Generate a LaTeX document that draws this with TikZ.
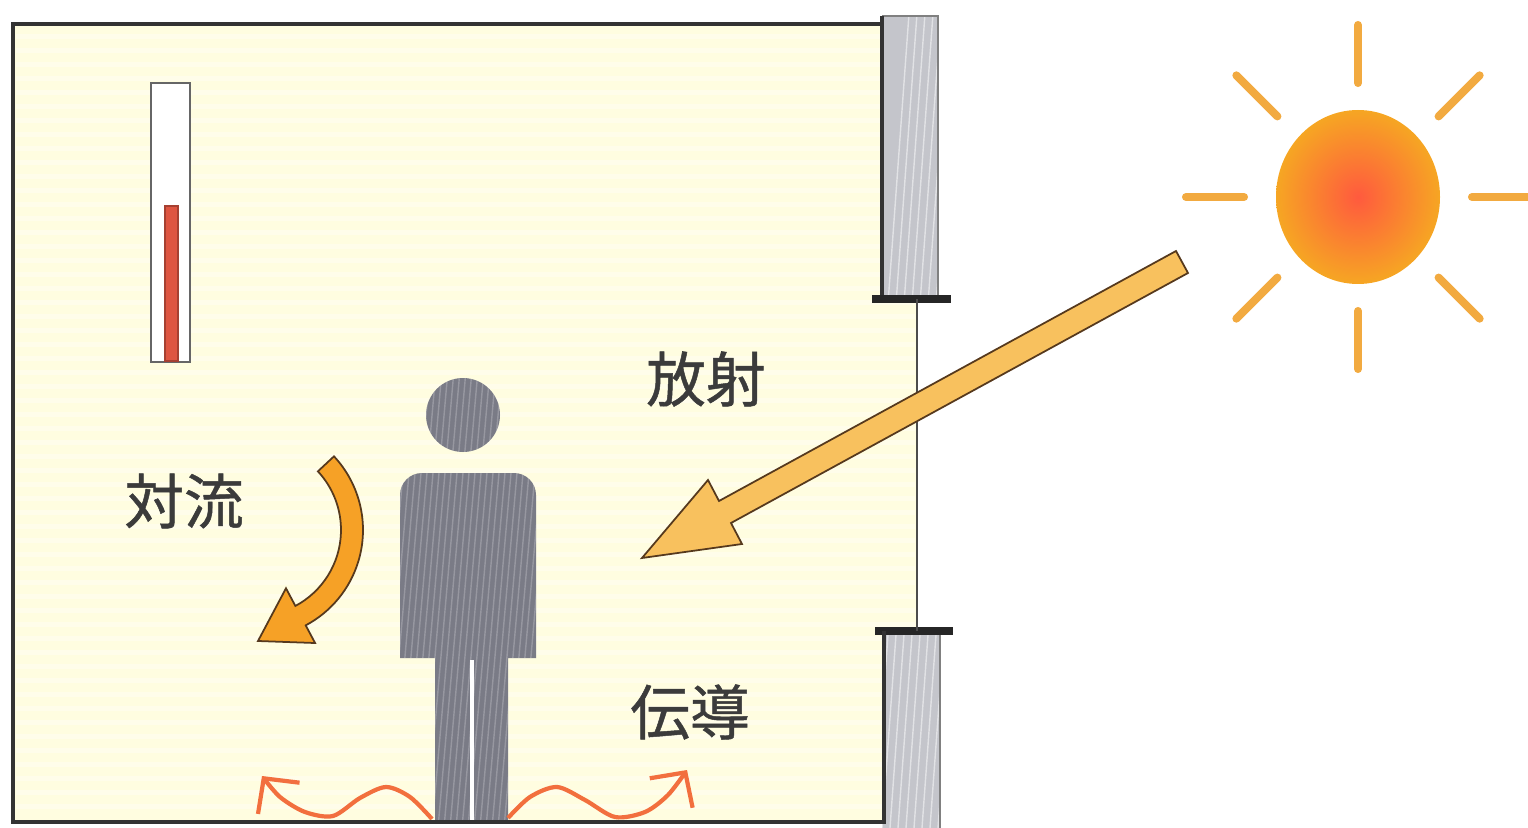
\documentclass[tikz,border=0pt]{standalone}
\usepackage{fontspec}
\newfontfamily\jpfont[FakeBold=0.8]{Noto Sans CJK JP}
\usetikzlibrary{arrows.meta,calc}

\definecolor{roomyellow}{HTML}{FFFDE0}
\definecolor{wallgray}{HTML}{C4C5CB}
\definecolor{persongray}{HTML}{7A7B86}
\definecolor{rayorange}{HTML}{F2AA40}
\definecolor{suncore}{HTML}{FF5A3E}
\definecolor{sunedge}{HTML}{F6A623}
\definecolor{beamfill}{HTML}{F8C15E}
\definecolor{flowfill}{HTML}{F6A126}
\definecolor{heatred}{HTML}{F26F3E}
\definecolor{labelgray}{HTML}{3B3B3B}
\definecolor{mercury}{HTML}{DE5541}

\tikzset{
  label text/.style={text=labelgray, font=\jpfont\fontsize{17}{20}\selectfont, inner sep=0pt},
  wall line/.style={line width=1.4pt, draw=black!80},
  ledge/.style={line width=2.4pt, draw=black!85},
  ray/.style={rayorange, line width=2.3pt, line cap=round},
  heat wave/.style={heatred, line width=1.2pt, -{Straight Barb[length=2.5mm,width=5.2mm]}},
}

\begin{document}
\begin{tikzpicture}[x=0.1mm,y=-0.1mm]
\useasboundingbox (0,0) rectangle (1528,828);

%% room interior
\fill[roomyellow] (14,24) rectangle (917,822);
\foreach \y in {34,48,...,810}{
  \fill[white,opacity=0.35] (16,\y) rectangle (915,\y+5);
}

%% wall blocks above and below the window
\begin{scope}
  \clip (882,16) rectangle (938,299) (882,632) rectangle (940,828);
  \fill[wallgray] (870,0) rectangle (950,828);
  \foreach \x in {850,858,...,960}{
    \draw[white,opacity=0.5,line width=0.4pt] (\x,828) -- (\x+60,0);
  }
\end{scope}
\draw[gray,line width=0.5pt] (882,16) -- (938,16) -- (938,299);
\draw[gray,line width=0.5pt] (940,632) -- (940,828);
\draw[wall line] (882,16) -- (882,299);
\draw[ledge] (872,299) -- (951,299);
\draw[ledge] (875,631) -- (953,631);
\draw[black!70,line width=0.6pt] (917,299) -- (917,631);

%% thermometer
\draw[gray!80!black,line width=0.8pt,fill=white] (151,83) rectangle (190,362);
\filldraw[fill=mercury,draw=mercury!75!black,line width=0.4pt] (165,206) rectangle (178,361);

%% person
\begin{scope}
  \clip (463,415) circle (37)
        (400,658) -- (400,495) arc(180:270:22) -- (514,473) arc(270:360:22)
        -- (536,658) -- (508,658) -- (508,822) -- (435,822) -- (435,658) -- cycle;
  \fill[persongray] (380,370) rectangle (560,828);
  \foreach \x in {330,336,...,560}{
    \draw[white,opacity=0.22,line width=0.4pt] (\x,828) -- (\x+40,370);
  }
\end{scope}
\draw[white,line width=0.9pt] (472,660) -- (472,822);

%% convection arrow
\coordinate (flow) at (255,530);
\filldraw[fill=flowfill,draw=black!55!brown,line width=0.5pt]
  ($(flow)+(-43:108)$) arc(-43:62:108) -- ($(flow)+(62:128)$) -- (258,641)
  -- ($(flow)+(62:66)$) -- ($(flow)+(62:86)$) arc(62:-43:86) -- cycle;

%% radiation beam
\filldraw[fill=beamfill,draw=black!55!brown,line width=0.5pt]
  (1176,251) -- (719,501) -- (708,480) -- (642,558) -- (742,544) -- (731,523) -- (1188,273) -- cycle;

%% conduction waves along the floor
\draw[heat wave] plot[smooth] coordinates {(432,819) (410,797) (386,787) (360,798) (333,816) (305,812) (280,797) (262,776)};
\draw[heat wave] plot[smooth] coordinates {(508,818) (530,797) (557,787) (585,800) (615,817) (645,812) (668,795) (687,770)};

%% room outline
\draw[wall line] (882,24) -- (13,24) -- (13,822) -- (884,822) -- (884,631);

%% sun
\coordinate (sun) at (1358,197);
\shade[inner color=suncore,outer color=sunedge] (sun) ellipse (82 and 87);
\foreach \ang in {0,45,...,315}{
  \draw[ray] ($(sun)+(\ang:114)$) -- ($(sun)+(\ang:172)$);
}

%% labels
\node[label text] (radiation) at (706,379) {放射};
\node[label text] (convection) at (184,501) {対流};
\node[label text] (conduction) at (690,712) {伝導};

\end{tikzpicture}
\end{document}
